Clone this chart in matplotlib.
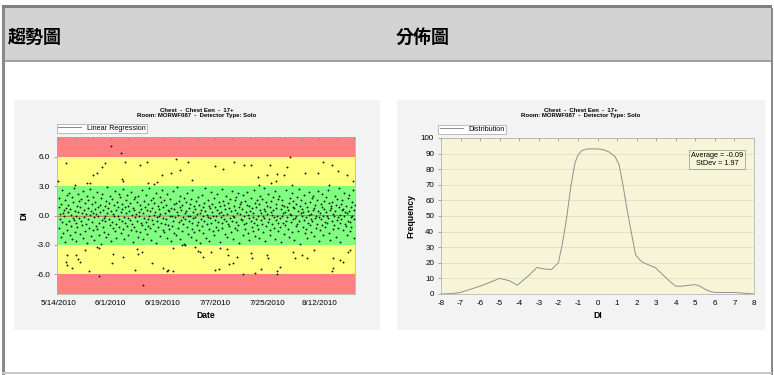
import numpy as np
import matplotlib
matplotlib.use("Agg")
import matplotlib.pyplot as plt
import matplotlib.dates as mdates
from matplotlib.patches import Rectangle
from matplotlib.ticker import FixedLocator, FuncFormatter
from datetime import datetime

plt.rcParams['font.family'] = ['Liberation Sans', 'DejaVu Sans']
plt.rcParams['axes.unicode_minus'] = False

W, H = 774, 375

# ---- data -------------------------------------------------------------
start_date = datetime(2010, 5, 14)
date_ticks = ['2010-05-14', '2010-06-01', '2010-06-19', '2010-07-07', '2010-07-25', '2010-08-12']

# DI readings inside the +/-3 band: (days since 5/14/2010, DI)
band_points = [
    (0.12, 0.9), (0.27, -1.3), (0.41, 1.8), (0.58, -0.4), (0.73, 0.2), (0.91, -2.2),
    (1.04, 1.2), (1.22, -0.7), (1.43, 2.6), (1.61, 0.3), (1.79, -1.8), (1.95, 0.6),
    (2.09, -0.1), (2.31, 1.6), (2.47, -2.7), (2.66, 0.8), (2.82, -0.9), (2.93, 2.1),
    (3.06, -1.5), (3.21, 0.4), (3.38, 1.1), (3.57, -0.6), (3.76, 2.3), (3.94, -2.0),
    (4.11, 0.7), (4.29, -1.1), (4.48, 0.1), (4.63, 1.9), (4.81, -2.4), (4.97, -0.3),
    (5.14, 1.4), (5.33, -0.5), (5.49, 2.8), (5.66, -1.7), (5.82, 0.5), (5.96, -0.8),
    (6.08, 0.0), (6.26, -2.6), (6.44, 1.0), (6.59, -1.2), (6.77, 2.2), (6.92, 0.4),
    (7.13, -0.3), (7.28, 1.5), (7.46, -1.9), (7.62, 0.9), (7.80, -0.6), (7.97, 1.7),
    (8.05, -1.0), (8.24, 0.3), (8.42, 2.5), (8.60, -2.3), (8.78, 0.6), (8.90, -0.2),
    (9.10, 1.3), (9.30, -1.6), (9.45, 0.2), (9.64, -0.9), (9.83, 2.0), (9.97, -2.8),
    (10.07, 0.8), (10.25, -0.4), (10.41, 1.6), (10.60, -1.3), (10.79, 0.1), (10.93, 2.7),
    (11.12, -2.1), (11.31, 0.5), (11.47, -0.7), (11.66, 1.2), (11.84, -1.5), (11.95, 0.3),
    (12.03, 1.9), (12.22, -0.2), (12.39, -2.5), (12.58, 0.7), (12.74, 1.4), (12.90, -1.1),
    (13.09, 0.2), (13.28, 2.4), (13.44, -1.4), (13.63, -0.1), (13.81, 0.9), (13.96, -2.0),
    (14.06, -0.8), (14.21, 1.1), (14.40, 0.4), (14.57, -2.9), (14.76, 1.8), (14.92, -0.5),
    (15.11, 2.2), (15.27, -1.2), (15.45, 0.6), (15.61, -0.3), (15.80, -1.7), (15.94, 1.0),
    (16.04, -0.6), (16.23, 0.0), (16.37, 1.5), (16.56, -2.2), (16.73, 2.9), (16.90, 0.3),
    (17.10, -1.9), (17.29, 0.8), (17.48, -0.4), (17.64, 1.3), (17.79, -1.0), (17.97, 2.0),
    (18.08, 0.5), (18.26, -2.6), (18.43, 1.7), (18.62, -0.7), (18.78, 0.2), (18.93, -1.3),
    (19.12, 1.1), (19.30, -0.1), (19.44, 2.5), (19.61, -1.6), (19.82, 0.6), (19.95, -0.9),
    (20.05, -2.3), (20.24, 1.4), (20.42, 0.0), (20.59, 0.9), (20.77, -1.2), (20.91, 2.2),
    (21.09, -0.4), (21.27, 1.9), (21.46, -1.8), (21.65, 0.4), (21.80, -0.6), (21.96, 1.2),
    (22.07, 0.7), (22.25, -1.4), (22.41, 2.7), (22.60, -0.2), (22.76, -2.4), (22.92, 0.9),
    (23.13, -0.8), (23.31, 0.3), (23.47, 1.6), (23.63, -1.1), (23.82, 2.1), (23.97, -0.3),
    (24.04, 1.0), (24.20, -2.0), (24.39, 0.5), (24.57, -0.5), (24.74, 1.3), (24.90, -1.5),
    (25.11, 2.4), (25.29, -0.9), (25.43, 0.1), (25.62, -2.7), (25.81, 0.8), (25.94, 1.7),
    (26.06, -1.2), (26.24, 0.6), (26.42, -0.2), (26.58, 1.9), (26.75, -1.6), (26.93, 0.2),
    (27.10, 1.4), (27.28, -0.6), (27.45, 2.0), (27.64, -2.2), (27.79, 0.4), (27.96, -0.1),
    (28.08, -1.7), (28.27, 1.1), (28.44, 0.7), (28.60, -0.8), (28.78, 2.6), (28.91, -1.0),
    (29.05, 0.3), (29.23, -2.4), (29.40, 1.5), (29.59, -0.3), (29.77, 0.9), (29.94, -1.4),
    (30.12, 2.1), (30.30, -0.7), (30.46, -1.9), (30.65, 0.6), (30.83, 1.2), (30.97, -0.4),
    (31.03, -1.1), (31.22, 0.0), (31.38, 2.8), (31.57, -1.3), (31.74, 0.5), (31.91, 1.6),
    (32.10, -2.5), (32.28, 0.8), (32.47, -0.5), (32.63, 1.8), (32.80, -0.9), (32.95, 0.1),
    (33.07, 1.3), (33.25, -1.6), (33.43, 0.4), (33.61, -2.8), (33.79, 2.3), (33.92, -0.2),
    (34.11, -0.6), (34.29, 1.0), (34.45, -1.2), (34.64, 0.7), (34.82, -0.1), (34.96, 1.9),
    (35.05, 0.2), (35.21, -2.1), (35.40, 1.4), (35.58, -0.8), (35.76, 2.6), (35.93, -1.5),
    (36.09, -0.3), (36.27, 0.9), (36.44, -1.7), (36.61, 1.6), (36.80, 0.3), (36.94, -0.9),
    (37.13, 1.1), (37.30, -0.4), (37.46, 2.2), (37.65, -2.3), (37.81, 0.6), (37.97, -1.0),
    (38.04, -1.4), (38.22, 0.5), (38.41, -0.1), (38.59, 1.7), (38.75, -2.6), (38.90, 0.8),
    (39.10, 0.0), (39.29, -1.1), (39.47, 2.5), (39.63, -0.6), (39.80, 1.2), (39.96, -1.8),
    (40.06, 0.7), (40.24, -0.2), (40.43, -2.0), (40.60, 1.3), (40.78, 0.4), (40.93, 2.9),
    (41.12, -1.3), (41.31, 0.1), (41.48, 1.5), (41.64, -0.7), (41.83, -2.4), (41.95, 0.9),
    (42.08, 2.0), (42.26, -0.5), (42.42, 0.6), (42.61, -1.6), (42.77, 1.1), (42.92, -0.2),
    (43.10, -0.9), (43.28, 1.8), (43.45, -2.9), (43.62, 0.3), (43.80, -0.4), (43.97, 1.4),
    (44.05, 0.5), (44.22, -1.2), (44.40, 2.3), (44.58, -0.1), (44.77, -1.9), (44.91, 0.8),
    (45.13, -0.6), (45.30, 1.2), (45.47, 0.0), (45.66, -2.2), (45.82, 1.7), (45.96, -0.8),
    (46.07, 2.6), (46.25, -1.4), (46.43, 0.4), (46.60, -0.3), (46.79, 1.0), (46.94, -1.7),
    (47.09, -0.2), (47.27, 0.7), (47.44, -2.5), (47.63, 1.5), (47.81, -1.0), (47.97, 0.2),
    (48.06, 1.9), (48.23, -0.7), (48.41, 1.1), (48.59, -1.5), (48.76, 0.3), (48.93, -2.8),
    (49.11, 0.6), (49.29, -0.4), (49.46, 2.1), (49.65, -1.1), (49.83, 0.9), (49.95, -0.1),
    (50.04, -1.8), (50.22, 1.3), (50.40, -0.6), (50.57, 0.5), (50.74, 2.8), (50.91, -2.3),
    (51.12, 0.1), (51.30, -0.9), (51.45, 1.6), (51.63, -0.2), (51.80, -1.4), (51.96, 1.0),
    (52.07, -2.6), (52.26, 0.8), (52.44, -0.3), (52.60, 2.4), (52.78, -0.8), (52.93, 0.4),
    (53.10, 1.2), (53.28, -1.6), (53.47, 0.0), (53.64, 1.8), (53.82, -2.0), (53.97, -0.5),
    (54.05, 0.9), (54.21, -0.1), (54.39, -1.2), (54.58, 2.2), (54.77, 0.6), (54.92, -0.7),
    (55.11, -1.5), (55.30, 1.4), (55.46, 0.3), (55.65, -2.7), (55.81, 1.0), (55.95, -0.2),
    (56.08, 0.4), (56.27, -0.8), (56.43, 2.7), (56.61, -1.3), (56.79, 0.1), (56.94, 1.5),
    (57.06, -0.4), (57.24, 1.1), (57.42, -1.9), (57.60, 0.7), (57.78, -0.6), (57.96, 2.0),
    (58.12, -2.2), (58.29, 0.2), (58.48, 1.3), (58.64, -0.9), (58.83, 0.8), (58.97, -1.1),
    (59.04, 1.7), (59.22, -0.3), (59.41, 0.5), (59.59, -1.7), (59.76, 2.5), (59.90, -0.6),
    (60.10, 0.0), (60.28, -2.4), (60.45, 1.0), (60.62, -0.2), (60.80, 1.6), (60.95, -1.3),
    (61.07, 0.6), (61.25, 1.9), (61.44, -0.7), (61.61, -1.5), (61.78, 0.3), (61.93, 2.3),
    (62.12, -1.0), (62.30, 0.9), (62.46, -2.8), (62.65, 0.2), (62.82, 1.2), (62.96, -0.4),
    (63.05, 1.4), (63.23, -0.5), (63.41, 0.7), (63.57, -2.0), (63.76, 2.1), (63.91, -0.9),
    (64.11, -0.1), (64.29, 1.5), (64.46, -1.4), (64.63, 0.4), (64.80, -0.8), (64.95, 1.1),
    (65.06, 2.4), (65.24, -1.8), (65.42, 0.1), (65.60, 1.0), (65.78, -0.3), (65.92, -2.5),
    (66.09, 0.5), (66.27, -0.6), (66.44, 1.8), (66.63, -1.2), (66.80, 0.8), (66.97, -0.2),
    (67.04, -1.6), (67.22, 0.3), (67.40, 2.6), (67.58, -0.8), (67.77, 1.3), (67.93, -2.1),
    (68.12, 0.9), (68.30, -0.4), (68.47, -1.0), (68.64, 1.6), (68.82, 0.0), (68.96, -1.4),
    (69.05, 1.2), (69.23, -2.3), (69.41, 0.6), (69.60, 2.0), (69.79, -0.5), (69.94, 0.3),
    (70.10, -0.9), (70.28, 1.7), (70.45, -0.1), (70.62, -1.7), (70.80, 0.7), (70.95, 2.8),
    (71.07, -0.3), (71.25, 0.5), (71.43, -2.6), (71.61, 1.4), (71.78, -1.1), (71.92, 0.2),
    (72.11, 1.0), (72.29, -0.7), (72.47, 2.2), (72.65, -0.4), (72.83, -1.5), (72.97, 0.9),
    (73.06, -2.0), (73.24, 0.4), (73.42, 1.5), (73.60, -0.9), (73.77, 0.1), (73.93, 1.9),
    (74.08, 0.6), (74.27, -1.3), (74.45, -0.2), (74.63, 2.5), (74.80, -2.4), (74.96, 0.8),
    (75.04, -0.5), (75.22, 1.2), (75.40, 0.0), (75.59, -1.6), (75.76, 1.7), (75.91, -0.8),
    (76.12, 2.0), (76.30, -0.3), (76.47, -1.2), (76.65, 0.7), (76.83, -2.7), (76.97, 1.1),
    (77.07, -0.1), (77.25, 1.6), (77.43, -0.8), (77.60, 0.3), (77.78, 1.0), (77.94, -1.9),
    (78.10, 0.4), (78.28, -1.0), (78.46, 2.6), (78.63, -0.6), (78.81, 0.9), (78.95, -0.2),
    (79.05, -1.4), (79.23, 0.6), (79.41, 1.3), (79.58, -2.2), (79.76, 0.2), (79.92, 1.8),
    (80.11, -0.7), (80.29, 0.1), (80.46, -1.7), (80.64, 2.3), (80.82, -0.4), (80.96, 0.9),
    (81.06, 1.5), (81.24, -2.5), (81.42, 0.8), (81.61, -0.3), (81.79, 1.2), (81.93, -1.1),
    (82.09, 0.0), (82.27, 1.9), (82.45, -0.9), (82.63, 0.5), (82.80, -1.6), (82.95, 2.7),
    (83.04, -0.6), (83.22, 1.0), (83.40, -2.9), (83.59, 0.3), (83.77, 1.6), (83.92, -0.1),
    (84.12, 0.7), (84.30, -1.2), (84.47, 0.4), (84.65, -0.5), (84.83, 2.1), (84.97, -1.8),
    (85.07, 1.3), (85.25, -0.2), (85.43, -1.4), (85.61, 0.9), (85.79, -2.3), (85.94, 0.5),
    (86.10, -0.8), (86.28, 2.4), (86.46, 0.1), (86.64, -1.0), (86.81, 1.4), (86.96, -0.4),
    (87.05, 0.2), (87.23, -1.7), (87.41, 1.8), (87.60, -0.6), (87.78, 0.6), (87.93, 2.0),
    (88.11, -2.1), (88.29, 0.8), (88.47, -0.3), (88.64, 1.1), (88.82, -1.3), (88.96, 0.0),
    (89.06, 1.6), (89.24, -0.9), (89.42, 0.5), (89.60, 2.5), (89.77, -2.6), (89.91, -0.2),
    (90.10, 0.3), (90.28, -1.5), (90.45, 1.2), (90.63, -0.4), (90.80, 0.9), (90.95, -1.0),
    (91.07, 2.2), (91.25, -0.1), (91.43, -2.0), (91.61, 0.7), (91.78, 1.5), (91.94, -0.7),
    (92.09, -1.2), (92.27, 0.4), (92.45, 1.9), (92.63, -0.8), (92.81, 0.0), (92.96, 2.6),
    (93.04, -0.3), (93.22, 1.3), (93.40, -1.8), (93.59, 0.6), (93.77, -2.5), (93.92, 1.0),
    (94.12, 0.8), (94.30, -0.6), (94.47, 1.4), (94.65, -1.4), (94.83, 0.2), (94.97, -0.1),
    (95.07, -1.0), (95.25, 2.0), (95.43, 0.5), (95.61, -2.2), (95.79, 1.1), (95.93, -0.5),
    (96.10, 1.7), (96.28, -0.2), (96.46, -1.3), (96.64, 0.9), (96.82, 2.8), (96.96, -0.8),
    (97.05, 0.1), (97.23, -2.7), (97.41, 1.2), (97.60, -0.4), (97.78, 0.6), (97.94, 1.6),
    (98.11, -1.5), (98.29, 0.7), (98.47, -0.1), (98.65, 2.3), (98.82, -0.9), (98.96, 0.4),
    (99.06, 1.0), (99.24, -1.1), (99.42, 0.3), (99.60, -2.0), (99.77, 1.8), (99.92, -0.6),
    (100.10, 0.5), (100.28, 2.1), (100.46, -0.7), (100.63, -1.6), (100.81, 0.9), (100.95, -0.2),
    (101.07, -1.2), (101.25, 1.4), (101.43, 0.0), (101.61, 2.6), (101.79, -2.3), (101.94, 0.6),
    (102.05, -0.4), (102.20, 1.1),
]

# DI readings outside the +/-3 band
high_points = [
    (0.0, 3.5), (2.5, 5.3), (5.8, 3.1), (10.0, 3.3), (10.9, 3.3), (11.8, 4.1), (13.2, 4.3),
    (15.0, 4.9), (16.1, 5.3), (18.0, 7.1), (21.5, 6.4), (23.0, 5.5), (21.8, 3.7), (22.4, 3.5),
    (28.1, 5.1), (30.6, 5.5), (31.0, 3.3), (33.0, 3.2), (33.9, 3.4), (35.9, 4.1), (38.7, 4.3),
    (40.5, 5.8), (42.0, 4.6), (44.6, 5.5), (46.0, 3.6), (54.0, 5.0), (56.7, 4.7), (60.6, 5.5),
    (64.0, 5.1), (66.4, 5.1), (68.7, 3.9), (69.3, 3.1), (71.8, 4.1), (73.0, 5.1), (75.0, 3.5),
    (75.3, 4.2), (77.7, 4.1), (79.0, 4.9), (79.9, 6.0), (80.7, 3.1), (85.0, 4.3), (89.7, 4.3),
    (91.4, 5.5), (94.4, 5.1), (96.3, 4.5), (99.4, 4.1), (93.2, 3.1), (101.7, 3.5), (73.4, 3.3),
]
low_points = [
    (2.9, -4.0), (2.6, -4.7), (2.9, -5.0), (4.6, -5.4), (6.1, -4.0), (6.7, -4.4), (7.5, -4.7),
    (9.2, -3.5), (10.7, -5.7), (13.4, -3.2), (14.1, -6.2), (14.1, -3.3), (18.4, -4.8), (19.0, -3.9),
    (22.4, -4.2), (26.4, -5.6), (27.2, -3.4), (27.6, -3.9), (29.0, -3.7), (29.1, -7.1), (32.2, -4.8),
    (36.2, -5.4), (37.4, -5.7), (37.9, -5.6), (39.7, -5.7), (39.6, -3.3), (42.5, -3.0), (43.7, -3.0),
    (47.1, -3.2), (48.3, -3.6), (48.9, -3.7), (50.0, -4.2), (52.5, -3.7), (54.0, -5.6), (55.5, -5.5),
    (55.7, -3.3), (58.0, -3.4), (58.4, -4.0), (58.9, -4.9), (60.3, -4.8), (61.5, -4.2), (63.8, -6.0),
    (66.7, -4.3), (66.6, -3.8), (67.8, -5.9), (69.8, -5.5), (71.8, -4.0), (72.4, -4.3), (75.3, -5.7),
    (75.4, -6.0), (76.4, -5.2), (81.0, -3.7), (81.6, -4.3), (83.9, -4.0), (85.6, -4.3), (88.0, -3.5),
    (94.3, -5.7), (94.6, -5.4), (94.8, -4.3), (97.1, -4.5), (98.3, -4.7), (100.0, -3.7), (100.6, -3.5),
]

# control bands: (lower, upper, colour)
bands = [(-8, -6, '#ff8080'), (-6, -3, '#ffff80'), (-3, 3, '#80ff80'), (3, 6, '#ffff80'), (6, 8, '#ff8080')]
trend_yticks = [-6.0, -3.0, 0.0, 3.0, 6.0]

# DI distribution curve
dist_x = [-8, -7.5, -7, -6.5, -6, -5.5, -5, -4.5, -4.1, -3.5, -3.1, -2.7, -2.35, -2.0, -1.8,
          -1.6, -1.35, -1.15, -1.0, -0.8, -0.5, 0.0, 0.3, 0.6, 0.9, 1.1, 1.3, 1.5, 1.75, 1.95,
          2.15, 2.35, 2.65, 2.95, 3.2, 3.45, 3.75, 4.0, 4.3, 4.6, 5.0, 5.25, 5.5, 5.8, 6.0,
          6.5, 7.0, 7.5, 8.0]
dist_y = [0, 0.2, 1, 3, 5, 7.5, 10, 8.5, 5.6, 12, 17, 16, 15.7, 20, 32,
          47, 70, 84, 89, 92, 93, 93, 92.5, 91, 88, 83, 70, 55, 38, 25,
          22, 20, 18.5, 17, 14, 11, 7.5, 5, 5, 5.5, 6, 5, 3, 1.5, 1,
          1, 1, 0.5, 0]
dist_average = -0.09
dist_stdev = 1.97

title_lines = "Chest  -  Chest Een  -  17+\nRoom: MORWF087  -  Detector Type: Solo"

# ---- figure -----------------------------------------------------------
fig = plt.figure(figsize=(W / 100, H / 100), dpi=100)
fig.patch.set_facecolor('white')


def px_box(x0, y0, x1, y1, **kw):
    """Rectangle in figure pixel coordinates (origin top-left), drawn behind the axes."""
    r = Rectangle((x0 / W, 1 - y1 / H), (x1 - x0) / W, (y1 - y0) / H,
                  transform=fig.transFigure, zorder=-10, **kw)
    fig.add_artist(r)
    return r


def px_ax(x0, y0, x1, y1):
    return fig.add_axes([x0 / W, 1 - y1 / H, (x1 - x0) / W, (y1 - y0) / H])


# page frame and header strip
px_box(2, 8, 772, 60, facecolor='#d3d3d3', edgecolor='none')
px_box(2, 5, 772, 8, facecolor='#808080', edgecolor='none')
px_box(2, 60, 772, 61.5, facecolor='#a0a0a0', edgecolor='none')
px_box(2, 8, 5, 375, facecolor='#8a8a8a', edgecolor='none')
px_box(770.5, 8, 772.5, 375, facecolor='#8a8a8a', edgecolor='none')
px_box(2, 372, 772, 373.5, facecolor='#c8c8c8', edgecolor='none')

cjk = ['Noto Sans CJK TC', 'DejaVu Sans']
fig.text(8 / W, 1 - 37 / H, '趨勢圖', family=cjk, fontsize=13, fontweight='bold', va='center', ha='left')
fig.text(396 / W, 1 - 37 / H, '分佈圖', family=cjk, fontsize=13, fontweight='bold', va='center', ha='left')

# chart panels
px_box(14, 100, 380, 330, facecolor='#f3f3f3', edgecolor='none')
px_box(397, 100, 765, 330, facecolor='#f3f3f3', edgecolor='none')

tick_fs = 5.8
label_fs = 6.2

# ---- trend chart ------------------------------------------------------
ax1 = px_ax(57, 137, 355, 294)
t0 = mdates.date2num(start_date)

for lo, hi, col in bands:
    ax1.axhspan(lo, hi, color=col, lw=0, zorder=0)

pts = band_points + high_points + low_points
days = np.array([p[0] for p in pts])
di = np.array([p[1] for p in pts])
ax1.scatter(t0 + days, di, s=1.8, color='#111111', lw=0, zorder=3)

slope, intercept = np.polyfit(days, di, 1)
xr = np.array([days.min(), days.max()])
reg_line, = ax1.plot(t0 + xr, intercept + slope * xr, color='#c8705a', lw=0.7, zorder=2,
                     label='Linear Regression')

ax1.set_xlim(t0 - 0.45, t0 + 102.3)
ax1.set_ylim(-8, 8)
ax1.xaxis.set_major_locator(FixedLocator([mdates.date2num(datetime.strptime(d, '%Y-%m-%d')) for d in date_ticks]))
ax1.xaxis.set_major_formatter(FuncFormatter(
    lambda v, _: f"{mdates.num2date(v).month}/{mdates.num2date(v).day}/{mdates.num2date(v).year}"))
ax1.set_yticks(trend_yticks)
ax1.yaxis.set_major_formatter(FuncFormatter(lambda v, _: f"{v:.1f}"))
ax1.tick_params(axis='both', labelsize=tick_fs, length=2, width=0.5, color='#888888', pad=3)
ax1.tick_params(axis='x', length=0, pad=4.5)
ax1.set_xlabel('Date', fontsize=label_fs, fontweight='bold', labelpad=3)
ax1.set_ylabel('DI', fontsize=label_fs, fontweight='bold', labelpad=6)
for s in ax1.spines.values():
    s.set_color('#aaaaaa')
    s.set_linewidth(0.5)

# small ticks along the top edge
top1 = ax1.secondary_xaxis('top')
top1.set_xticks([t0 + d for d in range(0, 103, 6)])
top1.tick_params(direction='in', length=2, width=0.5, color='#888888', labeltop=False)
top1.spines['top'].set_visible(False)

leg1 = ax1.legend(handles=[reg_line], loc='lower left', bbox_to_anchor=(0, 1.025), borderaxespad=0,
                  fontsize=5.2, frameon=True, fancybox=False, edgecolor='#a0a0a0', framealpha=1,
                  handlelength=3.2, handletextpad=0.8, borderpad=0.15)
leg1.get_frame().set_linewidth(0.5)

fig.text(197 / W, 1 - 113 / H, title_lines, fontsize=4.3, fontweight='bold', ha='center', va='center',
         linespacing=1.25)

# ---- distribution chart -----------------------------------------------
ax2 = px_ax(441, 138, 754, 294)
ax2.set_facecolor('#f7f5d7')
ax2.set_axisbelow(True)
ax2.grid(axis='y', color='#dcdac4', lw=0.5)
dist_line, = ax2.plot(dist_x, dist_y, color='#8f8f8f', lw=0.7, label='Distribution')
ax2.set_xlim(-8, 8)
ax2.set_ylim(0, 100)
ax2.set_xticks(range(-8, 9))
ax2.set_yticks(range(0, 101, 10))
ax2.tick_params(axis='both', labelsize=tick_fs, length=2, width=0.5, color='#888888', pad=3)
ax2.tick_params(axis='x', length=0, pad=4)
ax2.set_xlabel('DI', fontsize=label_fs, fontweight='bold', labelpad=3)
ax2.set_ylabel('Frequency', fontsize=label_fs, fontweight='bold', labelpad=4)
for s in ax2.spines.values():
    s.set_color('#aaaaaa')
    s.set_linewidth(0.5)

top2 = ax2.secondary_xaxis('top')
top2.set_xticks(range(-8, 9))
top2.tick_params(direction='in', length=2, width=0.5, color='#888888', labeltop=False)
top2.spines['top'].set_visible(False)

leg2 = ax2.legend(handles=[dist_line], loc='lower left', bbox_to_anchor=(-0.008, 1.025), borderaxespad=0,
                  fontsize=5.2, frameon=True, fancybox=False, edgecolor='#a0a0a0', framealpha=1,
                  facecolor='white', handlelength=3.2, handletextpad=0.8, borderpad=0.15)
leg2.get_frame().set_linewidth(0.5)

ax2.text(0.965, 0.91, f"Average = {dist_average:.2f}\nStDev = {dist_stdev:.2f}", transform=ax2.transAxes,
         ha='right', va='top', fontsize=5.3, multialignment='center',
         bbox=dict(boxstyle='square,pad=0.25', fc='#f7f5d7', ec='#909090', lw=0.5))

fig.text(581 / W, 1 - 113 / H, title_lines, fontsize=4.3, fontweight='bold', ha='center', va='center',
         linespacing=1.25)

fig.savefig('out.png', dpi=100)
